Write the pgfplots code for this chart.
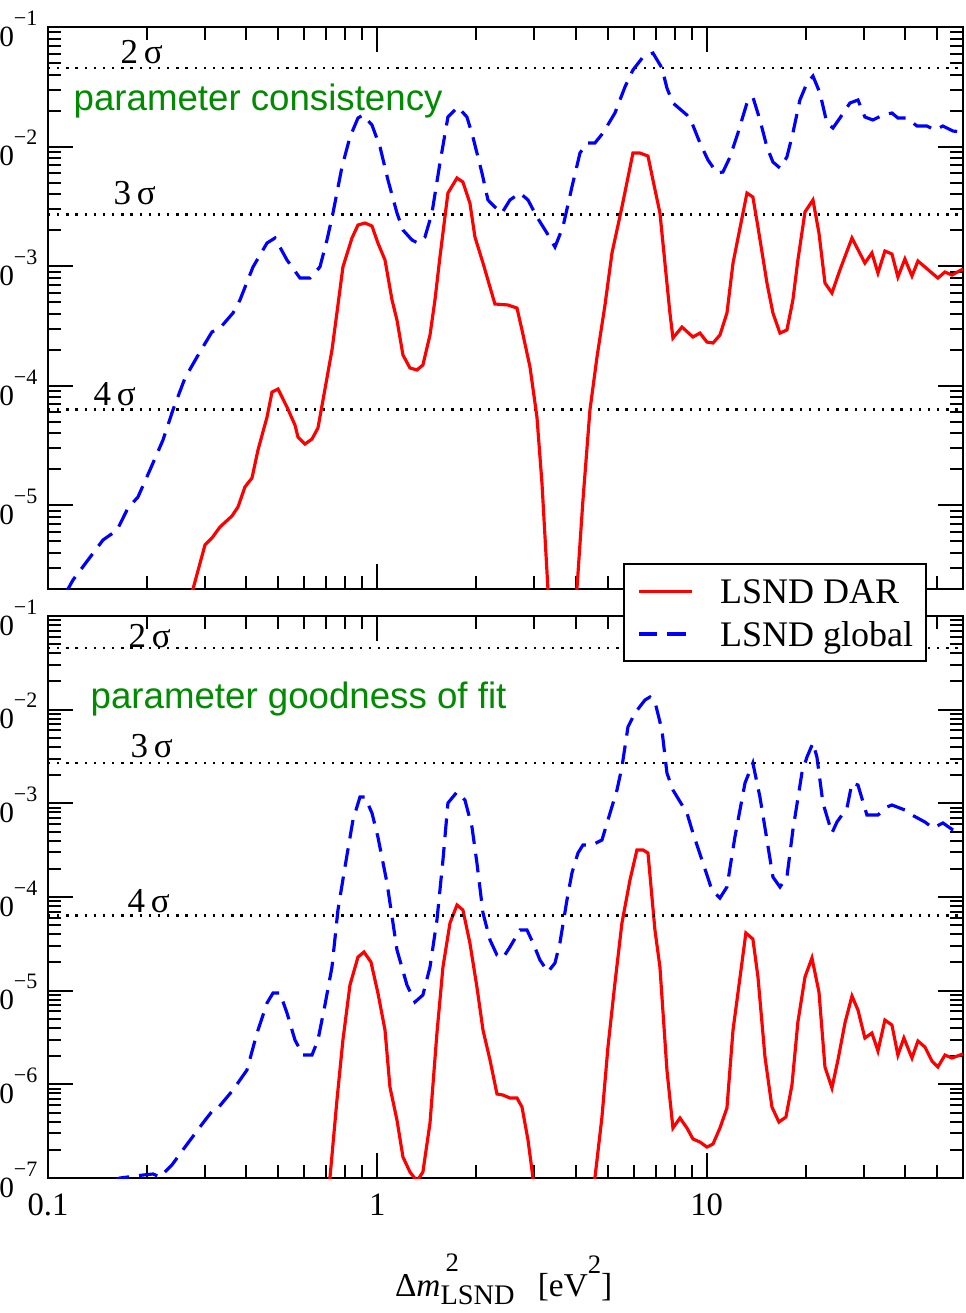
\documentclass[border=0pt]{standalone}
\usepackage{fontspec}
\setmainfont{Liberation Serif}
\newfontfamily\sansf{Liberation Sans}
\usepackage{pgfplots}
\pgfplotsset{compat=1.18}
\definecolor{grn}{RGB}{0,139,0}
\newcommand{\ytl}[1]{10\raisebox{6.3pt}{\fontsize{6.6}{7}\selectfont −#1}}
\pgfplotsset{
  mypanel/.style={
    scale only axis,
    width=274.5pt, height=168.6pt,
    xmin=0.1, xmax=60,
    xtick={0.1,1,10},
    minor xtick={0.2,0.3,0.4,0.5,0.6,0.7,0.8,0.9,2,3,4,5,6,7,8,9,20,30,40,50},
    tick align=inside,
    major tick length=7.5pt, minor tick length=3.9pt,
    every tick/.style={black, line width=0.6pt},
    axis line style={black, line width=0.85pt},
    yticklabel style={font=\fontsize{8.8}{9}\selectfont, inner sep=0pt, xshift=-3pt, yshift=-0.5pt},
    xticklabel style={font=\fontsize{9.8}{11}\selectfont, inner sep=0pt, yshift=-4.5pt},
  },
}
\tikzset{
  myred/.style={red, line width=0.95pt},
  myblue/.style={blue, line width=0.95pt, dash pattern=on 5.6pt off 3pt},
  mydot/.style={black, line width=0.7pt, dash pattern=on 0.7pt off 2.05pt},
  mysig/.style={anchor=base west, inner sep=0pt, font=\fontsize{10.5}{12}\selectfont},
  mygrn/.style={anchor=base west, inner sep=0pt, text=grn, font=\sansf\fontsize{11}{13}\selectfont},
}
\begin{document}
\begin{tikzpicture}
%================ TOP PANEL ================
\begin{axis}[xmode=log, ymode=log, mypanel, at={(0pt,176.7pt)}, anchor=south west,
  ymin=2e-6, ymax=0.1,
  ytick={1e-5,1e-4,1e-3,1e-2,1e-1},
  yticklabels={\ytl{5},\ytl{4},\ytl{3},\ytl{2},\ytl{1}},
  minor ytick={3e-6,4e-6,5e-6,6e-6,7e-6,8e-6,9e-6,2e-5,3e-5,4e-5,5e-5,6e-5,7e-5,8e-5,9e-5,2e-4,3e-4,4e-4,5e-4,6e-4,7e-4,8e-4,9e-4,2e-3,3e-3,4e-3,5e-3,6e-3,7e-3,8e-3,9e-3,2e-2,3e-2,4e-2,5e-2,6e-2,7e-2,8e-2,9e-2},
  xticklabels={}]
\addplot[mydot, forget plot] coordinates {(0.1,0.0455) (60,0.0455)};
\addplot[mydot, forget plot] coordinates {(0.1,0.0027) (60,0.0027)};
\addplot[mydot, forget plot] coordinates {(0.1,6.33e-5) (60,6.33e-5)};
\addplot[myred] coordinates {
(0.2718,1.75e-6) (0.2756,2.0e-6) (0.2997,4.67e-6) (0.3147,5.34e-6) (0.3328,6.60e-6) (0.3619,8.16e-6)
(0.3775,9.70e-6) (0.3963,1.426e-5) (0.4162,1.695e-5) (0.4341,2.905e-5) (0.4624,5.48e-5) (0.4788,8.87e-5)
(0.4993,9.40e-5) (0.5316,6.65e-5) (0.5622,4.70e-5) (0.5741,3.73e-5) (0.6030,3.26e-5) (0.6333,3.59e-5)
(0.6602,4.44e-5) (0.6839,7.61e-5) (0.7282,1.992e-4) (0.7593,4.74e-4) (0.7862,9.85e-4) (0.8374,1.72e-3)
(0.8733,2.21e-3) (0.9172,2.297e-3) (0.9631,2.168e-3) (1.004,1.563e-3) (1.055,1.127e-3) (1.108,5.22e-4)
(1.147,3.55e-4) (1.196,1.81e-4) (1.256,1.41e-4) (1.319,1.356e-4) (1.375,1.493e-4) (1.445,2.66e-4)
(1.496,5.22e-4) (1.549,1.194e-3) (1.638,4.09e-3) (1.745,5.46e-3) (1.819,5.06e-3) (1.910,3.38e-3)
(1.979,1.754e-3) (2.093,1.063e-3) (2.275,4.83e-4) (2.492,4.74e-4) (2.654,4.47e-4) (2.749,2.93e-4)
(2.907,1.437e-4) (3.052,5.48e-5) (3.161,1.54e-5) (3.296,2.0e-6) (3.343,6.18e-7) (3.981,6.18e-7)
(4.036,2.0e-6) (4.210,1.11e-5) (4.421,6.28e-5) (4.644,1.741e-4) (4.911,4.74e-4) (5.157,1.29e-3)
(5.529,3.126e-3) (5.971,8.84e-3) (6.271,8.84e-3) (6.632,8.34e-3) (6.868,5.26e-3) (7.211,2.786e-3)
(7.734,4.06e-4) (7.898,2.51e-4) (8.412,3.10e-4) (9.083,2.56e-4) (9.539,2.76e-4) (10.02,2.32e-4)
(10.45,2.28e-4) (10.97,2.66e-4) (11.52,4.06e-4) (12.02,1.063e-3) (13.25,4.09e-3) (13.81,3.79e-3)
(14.31,2.127e-3) (15.24,7.24e-4) (15.89,4.06e-4) (16.69,2.76e-4) (17.52,2.93e-4) (18.27,5.22e-4)
(18.92,1.127e-3) (19.88,2.84e-3) (21.02,3.58e-3) (21.92,1.895e-3) (22.86,7.24e-4) (24.00,5.97e-4)
(25.38,9.30e-4) (27.61,1.72e-3) (30.22,1.063e-3) (31.74,1.29e-3) (33.11,8.77e-4) (34.76,1.34e-3)
(36.51,1.265e-3) (38.07,8.12e-4) (39.98,1.149e-3) (42.00,8.28e-4) (43.79,1.105e-3) (45.99,9.85e-4)
(48.29,8.77e-4) (50.35,7.97e-4) (52.89,8.94e-4) (55.53,8.44e-4) (60,9.48e-4)};
\addplot[myblue] coordinates {
(0.1134,1.85e-6) (0.1150,2.0e-6) (0.1191,2.38e-6) (0.1469,5.14e-6) (0.1621,6.22e-6) (0.1749,9.51e-6)
(0.1876,1.175e-5) (0.2040,1.98e-5) (0.2234,3.52e-5) (0.2395,6.28e-5) (0.2606,1.161e-4) (0.2893,1.92e-4)
(0.3147,2.82e-4) (0.3328,3.04e-4) (0.3645,4.06e-4) (0.3828,5.22e-4) (0.4192,9.85e-4) (0.4624,1.563e-3)
(0.4888,1.72e-3) (0.5316,1.127e-3) (0.5821,7.97e-4) (0.6245,7.97e-4) (0.6694,9.85e-4) (0.7031,1.656e-3)
(0.7334,2.786e-3) (0.7809,6.75e-3) (0.8258,1.203e-2) (0.8733,1.734e-2) (0.9044,1.837e-2) (0.9631,1.516e-2)
(1.019,9.92e-3) (1.077,5.26e-3) (1.147,2.786e-3) (1.196,2.007e-3) (1.274,1.656e-3) (1.328,1.563e-3)
(1.395,1.754e-3) (1.465,2.786e-3) (1.549,7.29e-3) (1.638,1.768e-2) (1.757,2.144e-2) (1.871,1.768e-2)
(1.951,1.203e-2) (2.078,6.02e-3) (2.167,3.58e-3) (2.275,3.126e-3) (2.389,2.786e-3) (2.527,3.58e-3)
(2.710,4.09e-3) (2.867,3.58e-3) (3.052,2.578e-3) (3.273,1.895e-3) (3.462,1.447e-3) (3.660,2.127e-3)
(3.898,4.595e-3) (4.123,8.84e-3) (4.329,1.072e-2) (4.577,1.072e-2) (4.842,1.30e-2) (5.265,1.91e-2)
(5.646,3.15e-2) (5.971,4.37e-2) (6.405,5.61e-2) (6.868,6.06e-2) (7.313,4.54e-2) (7.573,3.09e-2)
(7.898,2.315e-2) (8.710,1.837e-2) (9.021,1.575e-2) (9.539,1.072e-2) (10.09,7.73e-3) (10.74,6.02e-3)
(11.20,6.13e-3) (11.77,8.18e-3) (12.44,1.30e-2) (13.25,2.315e-2) (13.81,2.60e-2) (14.51,1.669e-2)
(15.24,9.92e-3) (15.89,7.43e-3) (16.69,6.62e-3) (17.52,8.18e-3) (18.27,1.30e-2) (19.19,2.453e-2)
(20.16,3.40e-2) (21.02,3.89e-2) (22.07,2.81e-2) (23.17,1.575e-2) (24.17,1.43e-2) (25.38,1.734e-2)
(27.22,2.315e-2) (28.79,2.453e-2) (30.22,1.768e-2) (31.97,1.669e-2) (34.28,1.837e-2) (36.51,1.91e-2)
(38.07,1.734e-2) (40.54,1.734e-2) (43.48,1.487e-2) (46.63,1.487e-2) (49.31,1.376e-2) (52.15,1.487e-2)
(55.93,1.35e-2) (60,1.32e-2)};
\node[mysig] at (axis description cs:0.0787,0.9359) {2\,σ};
\node[mysig] at (axis description cs:0.0710,0.6833) {3\,σ};
\node[mysig] at (axis description cs:0.0492,0.3274) {4\,σ};
\node[mygrn] at (axis description cs:0.0273,0.8523) {parameter consistency};
\end{axis}
%================ BOTTOM PANEL ================
\begin{axis}[xmode=log, ymode=log, mypanel, at={(0pt,0pt)}, anchor=south west,
  ymin=1e-7, ymax=0.1,
  ytick={1e-7,1e-6,1e-5,1e-4,1e-3,1e-2,1e-1},
  yticklabels={\ytl{7},\ytl{6},\ytl{5},\ytl{4},\ytl{3},\ytl{2},\ytl{1}},
  minor ytick={2e-7,3e-7,4e-7,5e-7,6e-7,7e-7,8e-7,9e-7,2e-6,3e-6,4e-6,5e-6,6e-6,7e-6,8e-6,9e-6,2e-5,3e-5,4e-5,5e-5,6e-5,7e-5,8e-5,9e-5,2e-4,3e-4,4e-4,5e-4,6e-4,7e-4,8e-4,9e-4,2e-3,3e-3,4e-3,5e-3,6e-3,7e-3,8e-3,9e-3,2e-2,3e-2,4e-2,5e-2,6e-2,7e-2,8e-2,9e-2},
  xticklabels={0.1,1,10},
  xlabel={Δ\textit{m}\rlap{\hspace{1.5pt}\raisebox{7.5pt}{\fontsize{8}{8}\selectfont 2}}\raisebox{-2.4pt}{\fontsize{8.5}{9}\selectfont LSND}\hspace{7pt}[eV\raisebox{7pt}{\fontsize{8}{8}\selectfont 2}]},
  xlabel style={at={(axis description cs:0.498,0)}, anchor=base, yshift=-35.5pt, font=\fontsize{10}{11}\selectfont, inner sep=0pt},
  legend cell align=left,
  legend image code/.code={\draw[#1] (0pt,0pt) -- (15.9pt,0pt);},
  legend style={at={(axis description cs:0.6284,1.0943)}, anchor=north west, draw=black, line width=0.6pt, fill=white,
    inner xsep=3.9pt, inner ysep=4.6pt, row sep=5.6pt, column sep=8.1pt,
    font=\fontsize{10.8}{13}\selectfont, nodes={inner sep=0pt, text height=7.2pt, text depth=0pt}},
  ]
\addplot[myred] coordinates {
(0.7079,7.45e-8) (0.7179,1.0e-7) (0.7541,6.81e-7) (0.7862,2.975e-6) (0.8258,1.15e-5) (0.8733,2.288e-5)
(0.9108,2.587e-5) (0.9563,2.023e-5) (1.004,9.44e-6) (1.055,3.80e-6) (1.092,9.37e-7) (1.147,4.16e-7)
(1.196,1.677e-7) (1.256,1.159e-7) (1.319,9.3e-8) (1.375,1.159e-7) (1.445,3.87e-7) (1.517,3.53e-6)
(1.582,1.789e-5) (1.662,5.28e-5) (1.745,8.21e-5) (1.819,7.27e-5) (1.910,3.23e-5) (2.006,1.094e-5)
(2.093,3.80e-6) (2.198,1.82e-6) (2.308,7.89e-7) (2.406,7.69e-7) (2.527,7.15e-7) (2.654,7.15e-7)
(2.749,5.73e-7) (2.867,2.545e-7) (2.969,1.0e-7) (2.990,6.58e-8) (4.421,6.58e-8) (4.577,1.0e-7)
(4.808,4.48e-7) (5.014,2.503e-6) (5.265,1.207e-5) (5.529,5.28e-5) (5.848,1.519e-4) (6.140,3.18e-4)
(6.405,3.18e-4) (6.632,2.95e-4) (6.964,4.44e-5) (7.211,1.789e-5) (7.573,1.422e-6) (7.898,3.42e-7)
(8.295,4.37e-7) (8.710,3.42e-7) (9.083,2.61e-7) (9.539,2.423e-7) (10.02,2.14e-7) (10.45,2.307e-7)
(10.97,3.42e-7) (11.52,5.59e-7) (12.02,3.80e-6) (12.44,9.44e-6) (13.15,4.13e-5) (13.81,3.56e-5)
(14.31,1.40e-5) (15.03,1.957e-6) (15.78,5.73e-7) (16.57,3.96e-7) (17.40,4.48e-7) (18.15,9.84e-7)
(18.92,4.63e-6) (19.88,1.40e-5) (20.87,2.233e-5) (21.92,9.68e-6) (22.86,1.532e-6) (24.00,9.14e-7)
(25.03,1.82e-6) (26.29,4.52e-6) (27.61,8.77e-6) (28.79,6.22e-6) (30.22,3.125e-6) (31.74,3.53e-6)
(33.11,2.27e-6) (34.76,4.86e-6) (36.51,4.30e-6) (38.07,2.056e-6) (39.70,3.125e-6) (42.00,1.91e-6)
(43.79,2.90e-6) (45.99,2.503e-6) (48.29,1.775e-6) (50.35,1.532e-6) (52.89,2.056e-6) (55.53,1.91e-6)
(60,2.11e-6)};
\addlegendentry{LSND DAR}
\addplot[myblue] coordinates {
(0.1560,9.0e-8) (0.1654,1.0e-7) (0.1943,1.076e-7) (0.2084,1.104e-7) (0.2188,1.026e-7) (0.2378,1.377e-7) (0.2606,2.14e-7)
(0.2955,3.87e-7) (0.3170,5.32e-7) (0.3282,5.59e-7) (0.3645,8.70e-7) (0.4019,1.422e-6) (0.4311,3.53e-6)
(0.4624,7.38e-6) (0.4821,9.44e-6) (0.5062,9.44e-6) (0.5316,5.78e-6) (0.5622,2.975e-6) (0.5945,2.056e-6)
(0.6333,2.056e-6) (0.6602,2.975e-6) (0.6934,7.03e-6) (0.7282,1.789e-5) (0.7593,7.27e-5) (0.7975,2.09e-4)
(0.8433,6.64e-4) (0.8856,1.168e-3) (0.9172,1.168e-3) (0.9631,7.88e-4) (1.004,4.37e-4) (1.070,1.411e-4)
(1.147,2.72e-5) (1.230,1.15e-5) (1.301,7.57e-6) (1.375,8.99e-6) (1.445,1.789e-5) (1.517,5.68e-5)
(1.582,2.48e-4) (1.638,1.008e-3) (1.745,1.321e-3) (1.845,1.085e-3) (1.938,5.59e-4) (2.006,2.31e-4)
(2.093,6.75e-5) (2.198,3.48e-5) (2.308,2.40e-5) (2.406,2.233e-5) (2.527,2.925e-5) (2.710,4.44e-5)
(2.847,4.44e-5) (2.969,3.23e-5) (3.117,2.126e-5) (3.296,1.583e-5) (3.462,1.974e-5) (3.584,3.23e-5)
(3.765,9.29e-5) (3.898,1.805e-4) (4.066,2.95e-4) (4.210,3.59e-4) (4.484,3.59e-4) (4.808,4.06e-4)
(5.014,6.64e-4) (5.340,1.388e-3) (5.529,2.443e-3) (5.766,6.53e-3) (6.055,9.21e-3) (6.494,1.268e-2)
(6.725,1.365e-2) (6.964,1.208e-2) (7.313,6.07e-3) (7.573,2.108e-3) (7.898,1.388e-3) (8.710,7.88e-4)
(9.083,4.82e-4) (9.741,2.31e-4) (10.37,1.188e-4) (10.97,9.76e-5) (11.52,1.279e-4) (12.18,4.37e-4)
(13.07,1.649e-3) (13.81,2.695e-3) (14.51,1.168e-3) (15.24,4.06e-4) (15.89,1.635e-4) (16.69,1.279e-4)
(17.52,1.635e-4) (18.27,5.19e-4) (19.46,2.108e-3) (20.16,3.125e-3) (21.02,4.41e-3) (21.61,3.125e-3)
(22.54,1.008e-3) (24.00,4.82e-4) (24.86,6.32e-4) (26.66,8.92e-4) (27.61,1.649e-3) (28.79,1.569e-3)
(30.65,7.51e-4) (33.11,7.51e-4) (35.26,9.14e-4) (36.51,9.60e-4) (39.98,8.49e-4) (42.00,7.51e-4)
(45.99,6.32e-4) (48.63,5.45e-4) (52.15,6.17e-4) (55.93,5.19e-4) (60,4.94e-4)};
\addlegendentry{LSND global}
\addplot[mydot, forget plot] coordinates {(0.1,0.0455) (60,0.0455)};
\addplot[mydot, forget plot] coordinates {(0.1,0.0027) (60,0.0027)};
\addplot[mydot, forget plot] coordinates {(0.1,6.33e-5) (60,6.33e-5)};
\node[mysig] at (axis description cs:0.0874,0.9448) {2\,σ};
\node[mysig] at (axis description cs:0.0896,0.7491) {3\,σ};
\node[mysig] at (axis description cs:0.0863,0.4733) {4\,σ};
\node[mygrn] at (axis description cs:0.0459,0.8363) {parameter goodness of fit};
\end{axis}
\pgfresetboundingbox
\path[use as bounding box] (-14.4pt,-40.5pt) rectangle (275.1pt,353.4pt);
\end{tikzpicture}
\end{document}
